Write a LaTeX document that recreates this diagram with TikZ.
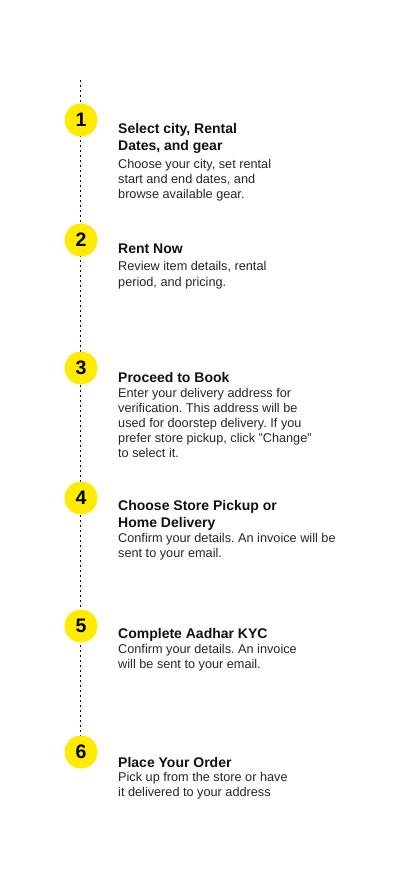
\documentclass[tikz,border=0pt]{standalone}
\usepackage{fontspec}
\setmainfont{Liberation Sans}
\frenchspacing
\definecolor{stepyellow}{HTML}{FFEB00}
\definecolor{titlecol}{HTML}{111111}
\definecolor{bodycol}{HTML}{262626}
\begin{document}
\begin{tikzpicture}[x=1pt,y=-1pt,
  stepcircle/.style={circle,fill=stepyellow,minimum size=33pt,inner sep=0pt,
    font=\fontsize{19.5}{19.5}\selectfont\bfseries,text=black},
  steptitle/.style={anchor=base west,inner sep=0pt,align=left,text=titlecol,
    font=\fontsize{14}{17}\selectfont\bfseries},
  stepbody/.style={anchor=base west,inner sep=0pt,align=left,text=bodycol,
    font=\fontsize{12.7}{15}\selectfont}]
\fill[white] (0,0) rectangle (402,874);
\useasboundingbox (0,0) rectangle (402,874);
\coordinate (top) at (80.5,80);
\coordinate (bot) at (80.5,737);
\draw[line width=1.6pt,dash pattern=on 2pt off 3pt,black] (top) -- (bot);
\node[stepcircle] (c1) at (81,120) {1};
\node[stepcircle] (c2) at (81,240) {2};
\node[stepcircle] (c3) at (81,368) {3};
\node[stepcircle] (c4) at (81,498) {4};
\node[stepcircle] (c5) at (81,626) {5};
\node[stepcircle] (c6) at (81,752) {6};
% base anchor = baseline of the last line
\node[steptitle] (t1) at (118,151) {Select city, Rental\\Dates, and gear};
\node[stepbody] (b1) at (118,199) {Choose your city, set rental\\start and end dates, and\\browse available gear.};
\node[steptitle] (t2) at (118,254) {Rent Now};
\node[stepbody] (b2) at (118,286) {Review item details, rental\\period, and pricing.};
\node[steptitle] (t3) at (118,382) {Proceed to Book};
\node[stepbody] (b3) at (118,457) {Enter your delivery address for\\verification. This address will be\\used for doorstep delivery. If you\\prefer store pickup, click "Change"\\to select it.};
\node[steptitle] (t4) at (118,527) {Choose Store Pickup or\\Home Delivery};
\node[stepbody] (b4) at (118,557) {Confirm your details. An invoice will be\\sent to your email.};
\node[steptitle] (t5) at (118,638) {Complete Aadhar KYC};
\node[stepbody] (b5) at (118,668) {Confirm your details. An invoice\\will be sent to your email.};
\node[steptitle] (t6) at (118,767) {Place Your Order};
\node[stepbody] (b6) at (118,796) {Pick up from the store or have\\it delivered to your address};
\end{tikzpicture}
\end{document}
